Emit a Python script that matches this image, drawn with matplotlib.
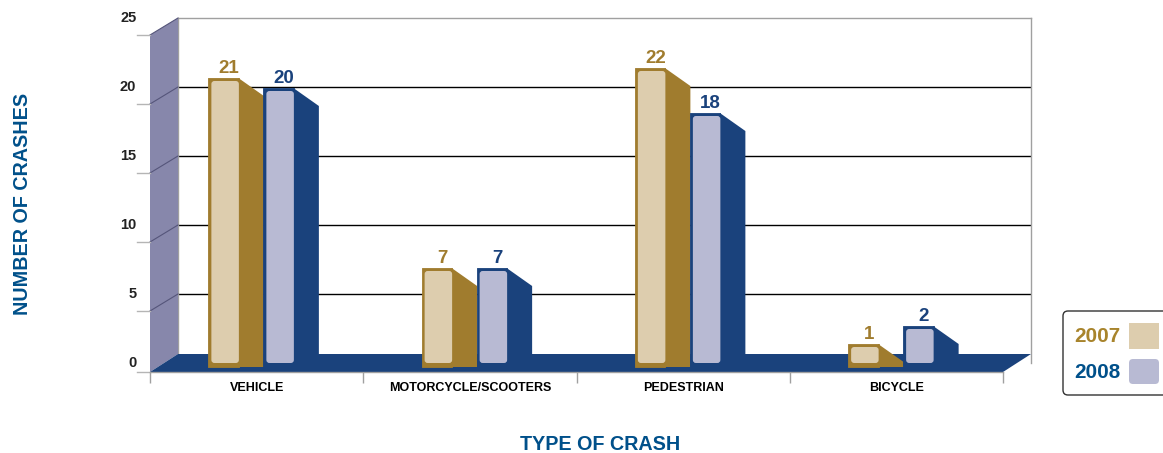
import numpy as np
import matplotlib
matplotlib.use("Agg")
import matplotlib.pyplot as plt
from matplotlib.patches import Polygon, FancyBboxPatch
from matplotlib.transforms import IdentityTransform, ScaledTranslation

categories = ["VEHICLE", "MOTORCYCLE/SCOOTERS", "PEDESTRIAN", "BICYCLE"]
years = ["2007", "2008"]
values_2007 = [21, 7, 22, 1]
values_2008 = [20, 7, 18, 2]
y_ticks = [0, 5, 10, 15, 20, 25]

GOLD, BEIGE = "#a07c2e", "#ddcdae"
NAVY, LAV = "#1a427c", "#b8bad3"
WALL = "#8787ab"
TITLE = "#00508a"
FONT = "Liberation Sans"
W, H = 1163, 453
DX, DY = 25, 18           # bar depth in pixels
WX, WY = 28, 17           # wall depth in pixels

plt.rcParams["font.family"] = FONT
plt.rcParams["font.weight"] = "bold"
fig = plt.figure(figsize=(W / 100, H / 100), dpi=100, facecolor="white")

def rect(x0, ytop, x1, ybot):
    return [x0 / W, 1 - ybot / H, (x1 - x0) / W, (ybot - ytop) / H]

def P(x, y):
    return (x, H - y)

I = IdentityTransform()

# ---- back wall axes (linear scale) ----
wall = fig.add_axes(rect(178, 18, 1031, 363), zorder=1)
wall.set_ylim(0, 25)
wall.set_xlim(0, 1)
wall.set_xticks([])
wall.set_yticks(y_ticks)
wall.tick_params(axis="y", length=0, pad=30, labelsize=10.5, labelcolor="#222222")
up = ScaledTranslation(0, 0.8 / 72, fig.dpi_scale_trans)
for lab in wall.get_yticklabels():
    lab.set_transform(lab.get_transform() + up)
wall.spines["bottom"].set_visible(False)
for s in ["top", "left", "right"]:
    wall.spines[s].set_color("#a0a0a0")
    wall.spines[s].set_linewidth(1.0)
wall.hlines(y_ticks[1:-1], 0, 1, color="black", lw=1.0)

# ---- bar axes: the picture's bar heights follow a non-linear scale ----
_v = [-5, 0, 1, 2, 7, 18, 20, 21, 22, 40]
_p = [402, 367, 344, 326, 268, 113, 88, 78, 68, -180]
_f = lambda v: np.interp(v, _v, -np.array(_p, float))
_i = lambda q: np.interp(q, -np.array(_p, float), _v)

ax = fig.add_axes(rect(150, 18, 1003, 372), zorder=2)
ax.patch.set_alpha(0)
ax.set_yscale("function", functions=(_f, _i))
ax.set_ylim(_i(-372), _i(-18))
ax.set_xlim(-0.5, 3.5)
ax.set_yticks([])
ax.minorticks_off()
for s in ["top", "left", "right"]:
    ax.spines[s].set_visible(False)
ax.spines["bottom"].set_color("#a0a0a0")
ax.spines["bottom"].set_linewidth(1.0)
ax.spines["bottom"].set_zorder(6)
ax.set_xticks(range(len(categories)))
ax.set_xticklabels(categories, fontsize=9, color="#000000")
ax.tick_params(axis="x", which="major", length=0, pad=7.5)
ax.set_xticks(np.arange(-0.5, 4, 1), minor=True)
ax.tick_params(axis="x", which="minor", length=8, width=1, color="#a0a0a0")

# left wall and floor
fig.canvas.draw()
wpx = lambda v: H - wall.transData.transform((0, v))[1]
ax.add_patch(Polygon([P(150, wpx(25) + WY), P(178, wpx(25)), P(178, 354), P(150, 372)],
                     closed=True, fc=WALL, ec="none", transform=I, clip_on=False, zorder=1))
for v in y_ticks[1:]:
    yb = wpx(v)
    ax.plot([178, 150], [H - yb, H - yb - WY], transform=I, clip_on=False, color="#55557a", lw=0.8, zorder=1.5)
    ax.plot([150, 137], [H - yb - WY] * 2, transform=I, clip_on=False, color="#b5b5b5", lw=1, zorder=1.5)
ax.plot([150, 137], [H - 372] * 2, transform=I, clip_on=False, color="#b5b5b5", lw=1, zorder=1.5)
ax.add_patch(Polygon([P(178, 354), P(1031, 354), P(1003, 372), P(150, 372)],
                     closed=True, fc=NAVY, ec="none", transform=I, clip_on=False, zorder=2))

# ---- bars ----
bar_w = 30.5 / 213.25
offsets = [-33 / 213.25, 22 / 213.25]
series = [(values_2007, GOLD, BEIGE, offsets[0]), (values_2008, NAVY, LAV, offsets[1])]
xs = np.arange(len(categories))
for k, (vals, dark, light, off) in enumerate(series):
    z = 3 + k * 0.5 + (0.2 if k == 0 else 0)
    ax.bar(xs + off, vals, width=bar_w, color=dark, ec=dark, lw=0.6, joinstyle="round", zorder=z + 0.1)
    for x, v in zip(xs + off, vals):
        x0, ytop = ax.transData.transform((x - bar_w / 2, v))
        x1, ybot = ax.transData.transform((x + bar_w / 2, 0))
        ax.add_patch(Polygon([(x1 - 0.5, ytop), (x1 + DX, ytop - DY), (x1 + DX, ybot), (x1 - 0.5, ybot)],
                             closed=True, fc=dark, ec="none", transform=I, clip_on=False, zorder=z))
        ax.add_patch(FancyBboxPatch((x0 + 5, ybot + 6), x1 - x0 - 7, ytop - ybot - 11,
                                    boxstyle="round,pad=2,rounding_size=3", fc=light, ec="none",
                                    transform=I, clip_on=False, zorder=z + 0.2))
        ax.annotate(str(v), (x, v), xytext=(4, 1), textcoords="offset points", ha="center", va="bottom",
                    fontsize=13.5, color=dark, annotation_clip=False, zorder=6)

# ---- titles ----
fig.text(600 / W, 1 - 444 / H, "TYPE OF CRASH", ha="center", va="center", fontsize=14.2, color=TITLE)
fig.text(22 / W, 1 - 204 / H, "NUMBER OF CRASHES", ha="center", va="center", rotation=90, fontsize=14.2,
         color=TITLE, transform=fig.transFigure + ScaledTranslation(0.7 / 72, 0, fig.dpi_scale_trans))

# ---- legend ----
legax = fig.add_axes([0, 0, 1, 1], zorder=3)
legax.axis("off")
legax.set_xlim(0, W)
legax.set_ylim(H, 0)
legax.add_patch(FancyBboxPatch((1066, 314), 120, 78, boxstyle="round,pad=3,rounding_size=5",
                               fc="white", ec="#333333", lw=1.0))
legax.add_patch(FancyBboxPatch((1129, 323), 30, 26, boxstyle="square,pad=0", fc=BEIGE, ec="none"))
legax.add_patch(FancyBboxPatch((1132, 362), 24, 19, boxstyle="round,pad=3,rounding_size=4", fc=LAV, ec="none"))
legax.text(1074, 336, years[0], ha="left", va="center", fontsize=14.9, color="#a8842c")
legax.text(1074, 373, years[1], ha="left", va="center", fontsize=14.9, color=TITLE)

fig.savefig("out.png", dpi=100, facecolor="white")
